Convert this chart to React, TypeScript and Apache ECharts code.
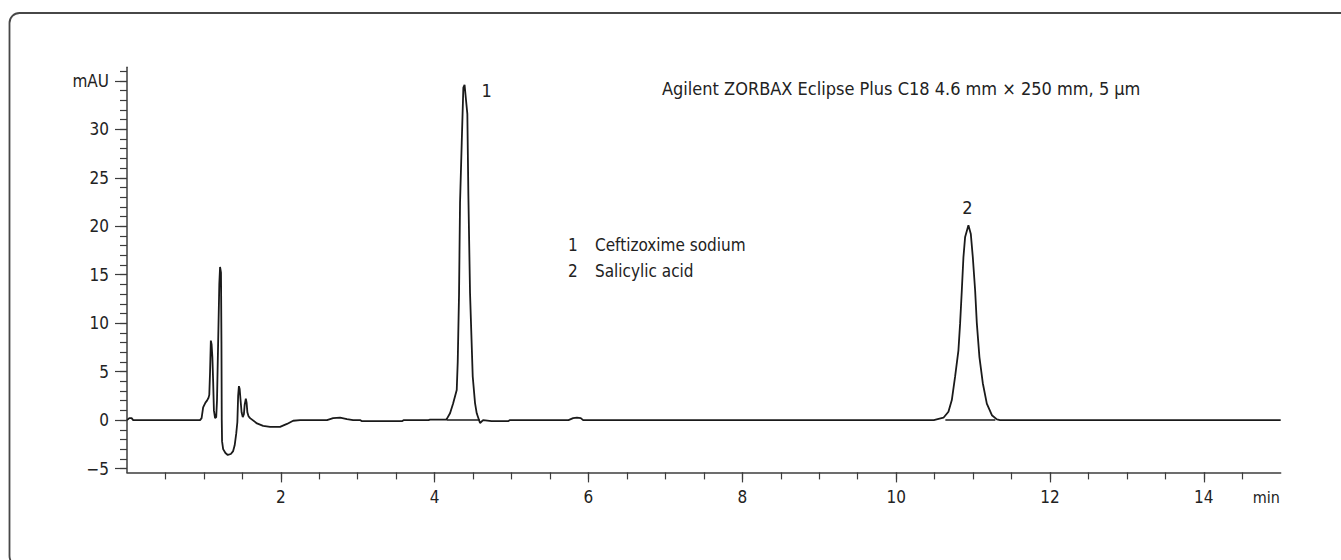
import React, { useEffect, useRef } from "react";
import * as echarts from "echarts";

const FONT =
  "'Liberation Sans Narrow', 'DejaVu Sans Condensed', 'Liberation Sans', sans-serif";

// Axis ranges (minutes, mAU)
const timeRange = [0, 15];
const absRange = [-5.4, 36.4];

// Tick positions and labels
const xMinorTicks = [0.5, 1, 1.5, 2, 2.5, 3, 3.5, 4, 4.5, 5, 5.5, 6, 6.5, 7, 7.5, 8, 8.5, 9, 9.5, 10, 10.5, 11, 11.5, 12, 12.5, 13, 13.5, 14, 14.5];
const xMajorTicks = [2, 4, 6, 8, 10, 12, 14];
const yMinorTicks = [-5, -4, -3, -2, -1, 0, 1, 2, 3, 4, 5, 6, 7, 8, 9, 10, 11, 12, 13, 14, 15, 16, 17, 18, 19, 20, 21, 22, 23, 24, 25, 26, 27, 28, 29, 30, 31, 32, 33, 34, 35, 36];
const yMajorTicks = [-5, 0, 5, 10, 15, 20, 25, 30, 35];
const yUnitTick = 35;

// Chromatogram trace, [min, mAU]
const baselineStart = [
  [0, 0], [0.03, 0.2], [0.06, 0.2], [0.08, 0], [0.95, 0],
];
const solventFront = [
  [0.97, 0.2], [0.99, 1.3], [1.02, 1.8], [1.04, 2.0], [1.06, 2.3], [1.07, 2.6],
  [1.08, 5.0], [1.09, 8.2], [1.1, 7.8], [1.11, 6.5], [1.12, 4.0], [1.13, 1.0],
  [1.145, 0.2], [1.16, 0.3], [1.17, 2.0], [1.185, 8], [1.2, 14], [1.21, 15.8],
  [1.222, 15.2], [1.228, 8], [1.232, 0], [1.236, -2.2], [1.25, -3.0], [1.28, -3.4],
  [1.31, -3.6], [1.35, -3.5], [1.38, -3.2], [1.4, -2.6], [1.42, -1.4], [1.435, -0.2],
  [1.445, 2.5], [1.455, 3.5], [1.465, 3.2], [1.475, 2.2], [1.49, 0.8], [1.505, 0.3],
  [1.52, 0.6], [1.53, 1.6], [1.545, 2.2], [1.555, 1.8], [1.565, 0.8], [1.58, 0.4],
  [1.6, 0.2], [1.69, -0.35], [1.77, -0.6], [1.86, -0.7], [1.99, -0.7], [2.08, -0.4],
  [2.16, -0.07], [2.25, 0],
];
const midBaseline = [
  [2.6, 0], [2.68, 0.2], [2.77, 0.25], [2.86, 0.1], [2.94, 0], [3.03, 0],
  [3.05, -0.1], [3.58, -0.1], [3.6, 0], [3.92, 0], [3.94, 0.05], [4.15, 0.05],
];
const peak1 = [
  [4.16, 0.15], [4.2, 0.7], [4.24, 1.7], [4.287, 3.1], [4.3, 6], [4.317, 13],
  [4.33, 22.4], [4.352, 28.6], [4.373, 34.3], [4.389, 34.6], [4.408, 33],
  [4.425, 31.6], [4.438, 23.4], [4.46, 13.1], [4.495, 4.5], [4.525, 1.75],
  [4.547, 0.7], [4.59, -0.3], [4.63, 0], [4.74, -0.1], [4.96, -0.1], [4.98, 0],
];
const lateBaseline = [
  [5.74, 0], [5.8, 0.2], [5.85, 0.25], [5.9, 0.2], [5.93, 0], [10.49, 0],
];
const peak2 = [
  [10.615, 0.24], [10.68, 0.86], [10.724, 2.06], [10.767, 4.5], [10.81, 7.2],
  [10.832, 10], [10.854, 13.4], [10.875, 16.8], [10.897, 18.9], [10.94, 20.1],
  [10.971, 19.2], [10.997, 16.8], [11.027, 13.4], [11.049, 10], [11.083, 6.5],
  [11.127, 3.8], [11.179, 1.7], [11.245, 0.5], [11.31, 0.07], [11.35, 0], [15, 0],
];

// Integration baselines drawn under the two peaks
const peak1Baseline = [[4.157, 0], [4.59, 0]];
const peak2Baseline = [[10.64, 0], [11.29, 0]];

// Peak apexes with their numbers
const peakLabels = ["1", "2"];
const peakApex = [[4.389, 34.6], [10.94, 20.1]];

const peakNames = ["Ceftizoxime sodium", "Salicylic acid"];
const columnTitle = "Agilent ZORBAX Eclipse Plus C18 4.6 mm \u00d7 250 mm, 5 \u00b5m";
const timeUnit = "min";
const absUnit = "mAU";

const TRACE = "#1a1a1a";
const AXIS = "#3c3c3c";
const TEXT = "#222222";

// Frame: open on the right, rounded on the left corners
echarts.graphic.registerShape(
  "frameEdge",
  echarts.graphic.extendPath(
    "M 1341 13 L 19.5 13 A 10 10 0 0 0 9.5 23 L 9.5 556 A 10 10 0 0 0 19.5 566",
    {}
  )
);

export default function App() {
  const ref = useRef<HTMLDivElement>(null);

  useEffect(() => {
    if (!ref.current) return;
    const chart = echarts.init(ref.current, null, { renderer: "svg" });

    const trace = [
      ...baselineStart,
      ...solventFront,
      ...midBaseline,
      ...peak1,
      ...lateBaseline,
      ...peak2,
    ];

    const tickLine = { color: AXIS, width: 1.2 };
    const labelStyle = { color: TEXT, fontSize: 17, fontFamily: FONT };

    const option: any = {
      animation: false,
      backgroundColor: "#ffffff",
      grid: { left: 127, right: 60.3, top: 67.3, bottom: 87.6 },
      xAxis: [
        {
          type: "value",
          min: timeRange[0],
          max: timeRange[1],
          position: "bottom",
          axisLine: { show: true, onZero: false, lineStyle: { color: AXIS, width: 1.5 } },
          axisTick: { show: true, customValues: xMinorTicks, length: 7, lineStyle: tickLine },
          axisLabel: { show: true, customValues: xMajorTicks, margin: 16, ...labelStyle },
          splitLine: { show: false },
        },
        {
          type: "value",
          min: timeRange[0],
          max: timeRange[1],
          position: "bottom",
          axisLine: { show: false, onZero: false },
          axisTick: { show: true, customValues: xMajorTicks, length: 10, lineStyle: tickLine },
          axisLabel: { show: false },
          splitLine: { show: false },
        },
      ],
      yAxis: [
        {
          type: "value",
          min: absRange[0],
          max: absRange[1],
          position: "left",
          axisLine: { show: true, onZero: false, lineStyle: { color: AXIS, width: 1.5 } },
          axisTick: { show: true, customValues: yMinorTicks, length: 7, lineStyle: tickLine },
          axisLabel: {
            show: true,
            customValues: yMajorTicks,
            margin: 18,
            ...labelStyle,
            formatter: (v: number) =>
              v === yUnitTick ? absUnit : v < 0 ? "\u2212" + Math.abs(v) : String(v),
          },
          splitLine: { show: false },
        },
        {
          type: "value",
          min: absRange[0],
          max: absRange[1],
          position: "left",
          axisLine: { show: false, onZero: false },
          axisTick: { show: true, customValues: yMajorTicks, length: 12, lineStyle: tickLine },
          axisLabel: { show: false },
          splitLine: { show: false },
        },
      ],
      series: [
        {
          type: "line",
          data: trace,
          showSymbol: false,
          lineStyle: { color: TRACE, width: 1.8 },
          z: 3,
        },
        {
          type: "line",
          data: peak1Baseline,
          showSymbol: false,
          lineStyle: { color: TRACE, width: 1.4 },
        },
        {
          type: "line",
          data: peak2Baseline,
          showSymbol: false,
          lineStyle: { color: TRACE, width: 1.4 },
        },
        {
          type: "scatter",
          symbolSize: 0,
          itemStyle: { opacity: 1 },
          data: peakApex.map((p, i) => ({
            value: p,
            label: {
              show: true,
              formatter: peakLabels[i],
              position: i === 0 ? "right" : "top",
              offset: i === 0 ? [12, 6] : [-1, -4],
              color: TEXT,
              fontSize: 18,
              fontFamily: FONT,
            },
          })),
          z: 4,
        },
      ],
      graphic: [
        {
          type: "frameEdge",
          x: 0,
          y: 0,
          style: { fill: "none", stroke: "#474747", lineWidth: 1.8 },
          silent: true,
        },
        {
          type: "text",
          x: 662,
          y: 88,
          style: {
            text: columnTitle,
            fontSize: 18,
            fontFamily: FONT,
            fill: TEXT,
            verticalAlign: "middle",
          },
        },
        {
          type: "text",
          x: 568,
          y: 245,
          style: { text: "1", fontSize: 17, fontFamily: FONT, fill: TEXT, verticalAlign: "middle" },
        },
        {
          type: "text",
          x: 595,
          y: 245,
          style: { text: peakNames[0], fontSize: 17, fontFamily: FONT, fill: TEXT, verticalAlign: "middle" },
        },
        {
          type: "text",
          x: 568,
          y: 271,
          style: { text: "2", fontSize: 17, fontFamily: FONT, fill: TEXT, verticalAlign: "middle" },
        },
        {
          type: "text",
          x: 595,
          y: 271,
          style: { text: peakNames[1], fontSize: 17, fontFamily: FONT, fill: TEXT, verticalAlign: "middle" },
        },
        {
          type: "text",
          x: 1280,
          y: 497,
          style: {
            text: timeUnit,
            fontSize: 16,
            fontFamily: FONT,
            fill: TEXT,
            align: "right",
            verticalAlign: "middle",
          },
        },
      ],
    };

    chart.setOption(option);
    return () => chart.dispose();
  }, []);

  return (
    <div
      ref={ref}
      style={{ position: "fixed", left: 0, top: 0, width: 1341, height: 560, background: "#fff" }}
    />
  );
}
